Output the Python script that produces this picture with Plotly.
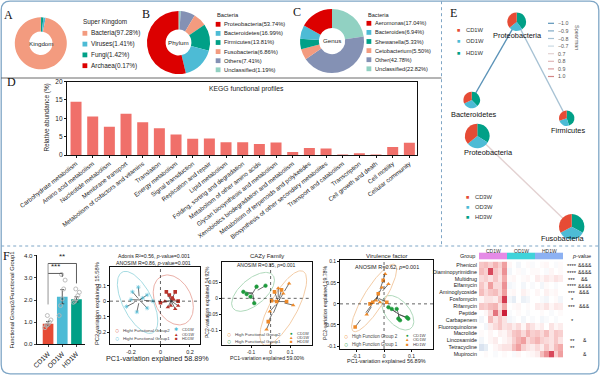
import numpy as np
import plotly.graph_objects as go

W, H = 600, 375
def PX(x): return x / W
def PY(y): return 1 - y / H

FONT = "Liberation Sans, Arial, sans-serif"
SERIF = "Liberation Serif, Times New Roman, serif"

# ---------------- data ----------------
kingdom_labels = ["Bacteria", "Viruses", "Fungi", "Archaea"]
kingdom_values = [97.28, 1.41, 1.42, 0.17]
kingdom_colors = ["#F39B7F", "#4DBBD5", "#00A087", "#DC0000"]

phylum_labels = ["Proteobacteria", "Bacteroidetes", "Firmicutes", "Fusobacteria", "Others", "Unclassified"]
phylum_values = [53.74, 16.99, 13.81, 6.86, 7.41, 1.19]
phylum_colors = ["#DC0000", "#4DBBD5", "#00A087", "#F39B7F", "#8491B4", "#91D1C2"]

genus_labels = ["Aeromonas", "Bacteroides", "Shewanella", "Cetobacterium", "Other", "Unclassified"]
genus_values = [17.04, 6.94, 5.33, 5.50, 42.78, 22.82]
genus_colors = ["#DC0000", "#4DBBD5", "#00A087", "#F39B7F", "#8491B4", "#91D1C2"]

kegg_categories = ["Carbohydrate metabolism", "Amino acid metabolism", "Nucleotide metabolism",
                   "Membrane transport", "Metabolism of cofactors and vitamins", "Translation",
                   "Energy metabolism", "Signal transduction", "Replication and repair",
                   "Lipid metabolism", "Folding, sorting and degradation",
                   "Metabolism of other amino acids", "Glycan biosynthesis and metabolism",
                   "Xenobiotics biodegradation and metabolism",
                   "Metabolism of terpenoids and polyketides",
                   "Biosynthesis of other secondary metabolites", "Transport and catabolism",
                   "Transcription", "Cell growth and death", "Cell motility", "Cellular community"]
kegg_values = [14.5, 10.5, 7.7, 11.2, 8.9, 7.3, 5.6, 4.4, 4.5, 3.5, 3.5, 3.0, 3.4, 0.8,
               1.9, 1.8, 0.05, 0.45, 0.05, 2.2, 3.3]

# E network
e_nodes = ["Proteobacteria", "Bacteroidetes", "Firmicutes", "Proteobacteria", "Fusobacteria"]
e_shares = [[0.36, 0.24, 0.40], [0.32, 0.30, 0.38], [0.30, 0.25, 0.45],
            [0.36, 0.30, 0.34], [0.33, 0.34, 0.33]]
e_edges = [(0, 1, -1.0), (0, 2, -0.8), (3, 4, 0.7)]
spearman_levels = [-1.0, -0.9, -0.8, -0.7, 0.7, 0.8, 0.9, 1.0]
spearman_colors = ["#5b93b8", "#80aac6", "#a7c2d4", "#c9d8e2", "#e3d2d2", "#dfb7b7", "#d99c9c", "#d38585"]
groups_1w = ["CD1W", "OD1W", "HD1W"]
groups_3w = ["CD3W", "OD3W", "HD3W"]
group_colors = ["#E64B35", "#4DBBD5", "#00A087"]

# F bar chart
f_groups = ["CD1W", "OD1W", "HD1W"]
f_means = [0.93, 2.15, 2.03]
f_sem = [0.10, 0.32, 0.12]
f_points = [[0.75, 0.85, 0.90, 1.00, 1.10, 1.30],
            [1.30, 1.75, 2.05, 2.50, 2.90, 3.15],
            [1.90, 1.95, 2.05, 2.20, 2.35, 2.50]]

# F PCoA 1 (ARG)
p1_cd_x = [-0.15, -0.19, -0.09, -0.23, -0.16, -0.09, -0.12, -0.05, -0.20]
p1_cd_y = [0.09, 0.06, 0.04, -0.035, -0.07, -0.045, 0.02, 0.0, 0.01]
p1_od_x = [0.03, 0.07, 0.10, 0.12, 0.05, 0.09]
p1_od_y = [0.0, -0.03, -0.05, -0.03, -0.04, 0.01]
p1_hd_x = [0.04, 0.06, 0.10, 0.08, 0.0, 0.12]
p1_hd_y = [0.06, 0.04, 0.06, 0.02, -0.01, 0.0]
# ellipse (cx, cy, half-width x, half-height y, correlation)
p1_ell_g1 = (-0.155, -0.008, 0.137, 0.20, -0.6)
p1_ell_g2 = (0.087, 0.008, 0.136, 0.161, -0.3)

# F PCoA 2 (CAZy)
p2_cd_x = [-0.123, -0.072, -0.026, -0.103, -0.084, -0.14]
p2_cd_y = [0.013, 0.036, 0.039, 0.005, -0.015, 0.02]
p2_od_x = [0.095, 0.065, 0.116, -0.004, -0.021, 0.039]
p2_od_y = [0.046, 0.015, -0.021, -0.041, -0.096, 0.031]
p2_hd_x = [0.056, 0.082, 0.031, -0.012, 0.005, 0.02]
p2_hd_y = [0.026, -0.01, -0.01, -0.072, -0.007, 0.02]
p2_ell_g1 = (-0.09, 0.02, 0.11, 0.06, 0.6)
p2_ell_g2 = (0.065, -0.03, 0.12, 0.115, 0.75)

# F PCoA 3 (Virulence)
p3_cd_x = [0.016, 0.028, 0.046, 0.052, 0.058, 0.083, 0.088]
p3_cd_y = [-0.008, -0.012, -0.012, -0.035, -0.039, -0.032, -0.035]
p3_od_x = [-0.063, -0.029, -0.008, 0.004, 0.016, -0.015]
p3_od_y = [-0.025, 0.008, 0.039, 0.071, 0.047, 0.004]
p3_hd_x = [-0.105, -0.051, -0.041, -0.021, -0.003, 0.01]
p3_hd_y = [-0.055, 0.0, 0.004, 0.024, 0.056, 0.004]
p3_ell_g1 = (0.05, -0.021, 0.058, 0.041, -0.5)
p3_ell_g2 = (-0.036, 0.014, 0.082, 0.08, 0.85)

# F heatmap
hm_rows = ["Phenicol", "Diaminopyrimidine", "Multidrug", "Elfamycin", "Aminoglycoside",
           "Fosfomycin", "Rifamycin", "Peptide", "Carbapenem", "Fluoroquinolone",
           "Macrolide", "Lincosamide", "Tetracycline", "Mupirocin"]
hm_z = [
    [0.6, 0.7, 0.5, 0.8, 0.5, 1.0, 0.1, 0.0, -0.1, 0.0, 0.05, -0.05, 0.0, 0.05, 0.1, 0.0, -0.05, 0.05],
    [0.7, 0.5, 1.6, 0.6, 0.4, 1.1, -0.1, 0.0, 0.05, -0.05, 0.0, 0.05, 0.05, 0.0, -0.05, 0.1, 0.0, 0.05],
    [0.4, 0.5, 0.3, 0.6, 0.3, 0.9, 0.05, 0.1, 0.0, 0.05, 0.1, 0.0, 0.2, 0.1, 0.25, 0.15, 0.3, 0.2],
    [0.6, 0.3, 1.0, 0.4, 0.4, 1.1, -0.1, -0.05, 0.0, -0.1, 0.0, -0.05, 0.0, -0.1, 0.05, 0.0, -0.05, 0.0],
    [0.7, 0.4, 0.6, 0.7, 0.4, 1.0, 0.05, 0.1, 0.0, 0.15, 0.05, 0.0, 0.1, 0.0, 0.15, 0.05, 0.1, 0.0],
    [0.1, 0.3, 0.3, 0.2, 0.6, 1.7, -0.1, -0.2, 0.0, -0.15, -0.1, 0.0, 0.0, -0.05, -0.1, 0.0, 0.05, -0.1],
    [0.6, 0.5, 0.7, 0.8, 0.3, 0.9, 0.0, 0.05, 0.1, 0.0, 0.05, 0.0, 0.2, 0.15, 0.3, 0.1, 0.25, 0.2],
    [0.0, 0.1, 0.4, 1.3, 0.5, 1.9, -0.05, 0.0, 0.05, 0.0, -0.05, 0.0, 0.0, 0.05, 0.0, -0.05, 0.0, 0.05],
    [-0.1, 0.0, 0.7, 0.3, 0.6, 0.3, -0.1, -0.05, 0.0, -0.1, 0.0, -0.05, 0.0, -0.1, -0.05, 0.0, -0.05, 0.0],
    [0.0, -0.1, 0.2, 0.4, 0.6, 0.3, 0.4, 0.2, 0.4, 0.1, 0.5, 0.3, 0.1, 0.2, 0.0, 0.3, 0.1, 0.2],
    [0.05, 0.0, 0.1, 0.0, 0.15, 0.1, 0.3, 0.6, 0.7, 0.4, 0.8, 0.5, 0.6, 0.4, 0.7, 0.3, 0.6, 0.5],
    [-0.1, 0.0, 0.1, 0.2, 0.0, 0.1, 0.2, 0.5, 0.8, 1.0, 0.4, 0.6, 0.8, 0.5, 0.4, 0.3, 0.6, 0.3],
    [-0.3, -0.2, 0.0, 0.1, 0.2, 0.3, 0.3, 0.7, 1.0, 0.5, 0.3, 0.2, 0.4, 0.2, 0.6, 0.3, 0.7, 0.9],
    [0.0, 0.05, 0.0, -0.05, 0.0, 0.05, 0.0, -0.05, 0.1, 0.0, 0.05, 0.1, 0.2, 0.7, 1.1, 1.6, 0.5, 1.0],
]
hm_stars = ["****", "****", "***", "****", "***", "*", "***", "", "*", "", "", "**", "**", ""]
hm_amps = ["&&&&", "&&&&", "&&", "&&&&", "&&&", "", "&&&", "", "", "", "", "&", "", "&"]
hm_group_colors = ["#E58AE6", "#3FD3DA", "#8DB1F2"]

# ---------------- figure ----------------
fig = go.Figure()
shapes = []
ann = []

def dom(cx, cy, r):
    return dict(x=[PX(cx - r), PX(cx + r)], y=[PY(cy + r), PY(cy - r)])

def donut(labels, values, colors, domain, hole=0.0):
    # slices laid out anticlockwise from 12 o'clock (as in the reference):
    # feed the slices in reverse order to a clockwise pie
    fig.add_trace(go.Pie(labels=list(labels)[::-1], values=list(values)[::-1],
                         marker=dict(colors=list(colors)[::-1], line=dict(width=0)),
                         hole=hole, sort=False, direction="clockwise", rotation=0,
                         textinfo="none", hoverinfo="skip", showlegend=False, domain=domain))

def text(x, y, s, size=6, color="#222", xanchor="center", yanchor="middle", angle=0, family=FONT):
    ann.append(dict(x=PX(x), y=PY(y), xref="paper", yref="paper", text=s, showarrow=False,
                    font=dict(size=size, color=color, family=family), xanchor=xanchor,
                    yanchor=yanchor, textangle=angle))

def rect(x0, y0, x1, y1, color):
    shapes.append(dict(type="rect", xref="paper", yref="paper", x0=PX(x0), x1=PX(x1),
                       y0=PY(y1), y1=PY(y0), fillcolor=color, line=dict(width=0)))

# donuts
for labels, values, colors, cx, cy, r, hole, name in [
        (kingdom_labels, kingdom_values, kingdom_colors, 40.8, 43.3, 26, 0.45, "Kingdom"),
        (phylum_labels, phylum_values, phylum_colors, 178.5, 42.5, 31.5, 0.41, "Phylum"),
        (genus_labels, genus_values, genus_colors, 332, 41, 32, 0.41, "Genus")]:
    donut(labels, values, colors, dom(cx, cy, r), hole)
    text(cx, cy, name, size=6.2)

# manual legends for donuts
def donut_legend(title, tx, ty, labels, values, colors, sqx, y_first, step, size=6.2):
    text(tx, ty, title, size=size, xanchor="left")
    for i, (lab, val, col) in enumerate(zip(labels, values, colors)):
        yy = y_first + i * step
        rect(sqx, yy - 2.4, sqx + 4.8, yy + 2.4, col)
        text(sqx + 6.5, yy, f"{lab}({val:.2f}%)", size=size, xanchor="left")

donut_legend("Super Kingdom", 81, 21.7, kingdom_labels, kingdom_values, kingdom_colors, 82.5, 33.3, 10.8, 6.4)
donut_legend("Bacteria", 215, 15, phylum_labels, phylum_values, phylum_colors, 215.7, 24.3, 9.1, 5.8)
donut_legend("Bacteria", 365.5, 15, genus_labels, genus_values, genus_colors, 366.5, 23.3, 9.1, 5.6)

# ---- D: KEGG bars ----
fig.add_trace(go.Bar(x=list(range(len(kegg_values))), y=kegg_values, marker=dict(color="#F0706A", line=dict(width=0)),
                     width=0.66, xaxis="x", yaxis="y", showlegend=False, hoverinfo="skip"))
# ---- F bars ----
fig.add_trace(go.Bar(x=[0, 1, 2], y=f_means, marker=dict(color=group_colors, line=dict(width=0)), width=0.75,
                     error_y=dict(type="data", array=f_sem, color="#333", thickness=0.8, width=2),
                     xaxis="x2", yaxis="y2", showlegend=False, hoverinfo="skip"))
jit = [-0.22, -0.12, 0.0, 0.1, 0.2, -0.05]
for gi, pts in enumerate(f_points):
    fig.add_trace(go.Scatter(x=[gi + jit[k % len(jit)] for k in range(len(pts))], y=pts, mode="markers",
                             marker=dict(symbol="circle-open", size=4, color="#b5b5b5", line=dict(width=0.9)),
                             xaxis="x2", yaxis="y2", showlegend=False, hoverinfo="skip"))

# ---- PCoA plots ----
def ellipse(params, n=120):
    cx, cy, hx, hy, rho = params
    t = np.linspace(0, 2 * np.pi, n)
    d = np.arccos(rho)
    return cx + hx * np.cos(t), cy + hy * np.cos(t - d)

def pcoa(ax, cdx, cdy, odx, ody, hdx, hdy, ell1, ell2, c1, c2, e1, e2, sym1):
    xa, ya = ("x" + ax), ("y" + ax)
    for ell, col in [(ell1, e1), (ell2, e2)]:
        ex, ey = ellipse(ell)
        fig.add_trace(go.Scatter(x=ex, y=ey, mode="lines", line=dict(color=col, width=1),
                                 xaxis=xa, yaxis=ya, showlegend=False, hoverinfo="skip"))
    g2x = list(odx) + list(hdx)
    g2y = list(ody) + list(hdy)
    for gx, gy in [(cdx, cdy), (g2x, g2y)]:
        mx, my = float(np.mean(gx)), float(np.mean(gy))
        sx, sy = [], []
        for a, b in zip(gx, gy):
            sx += [a, mx, None]
            sy += [b, my, None]
        fig.add_trace(go.Scatter(x=sx, y=sy, mode="lines", line=dict(color="#333", width=0.7, dash="dash"),
                                 xaxis=xa, yaxis=ya, showlegend=False, hoverinfo="skip"))
    fig.add_trace(go.Scatter(x=cdx, y=cdy, mode="markers", marker=dict(symbol=sym1, size=3.6, color=c1,
                             line=dict(width=0.6, color=c1)), xaxis=xa, yaxis=ya, showlegend=False, hoverinfo="skip"))
    fig.add_trace(go.Scatter(x=odx, y=ody, mode="markers", marker=dict(symbol="triangle-up", size=4, color=c2),
                             xaxis=xa, yaxis=ya, showlegend=False, hoverinfo="skip"))
    fig.add_trace(go.Scatter(x=hdx, y=hdy, mode="markers", marker=dict(symbol="square", size=3.6, color=c2),
                             xaxis=xa, yaxis=ya, showlegend=False, hoverinfo="skip"))

pcoa("3", p1_cd_x, p1_cd_y, p1_od_x, p1_od_y, p1_hd_x, p1_hd_y, p1_ell_g1, p1_ell_g2,
     "#4DBBD5", "#B8322A", "#A6DCE3", "#EBB0A8", "asterisk")
pcoa("4", p2_cd_x, p2_cd_y, p2_od_x, p2_od_y, p2_hd_x, p2_hd_y, p2_ell_g1, p2_ell_g2,
     "#1E9A3C", "#EE8A2A", "#AFD9BB", "#F3CCA6", "circle")
pcoa("5", p3_cd_x, p3_cd_y, p3_od_x, p3_od_y, p3_hd_x, p3_hd_y, p3_ell_g1, p3_ell_g2,
     "#1E9A3C", "#EE8A2A", "#AFD9BB", "#F3CCA6", "circle")

# ---- heatmap ----
fig.add_trace(go.Heatmap(z=hm_z, x=list(range(18)), y=hm_rows, zmin=-1.5, zmax=2.0,
                         colorscale=[[0, "#4575b4"], [0.4286, "#ffffff"], [0.7, "#f2a6a6"], [1, "#c8102e"]],
                         showscale=False, xaxis="x6", yaxis="y6", hoverinfo="skip"))

# ---- E network ----
e_pos = [(516.7, 21.7), (471.7, 100.0), (566.7, 118.3), (477.3, 136.0), (571.7, 226.7)]
e_rad = [9.3, 8.3, 7.7, 12.3, 12.7]
e_label_pos = [(517.7, 35.5), (473.3, 114.3), (568, 130.5), (488, 152.7), (563, 238.5)]
for a, b, rv in e_edges:
    col = spearman_colors[spearman_levels.index(rv)]
    fig.add_trace(go.Scatter(x=[e_pos[a][0], e_pos[b][0]], y=[e_pos[a][1], e_pos[b][1]], mode="lines",
                             line=dict(color=col, width=1.4), xaxis="x7", yaxis="y7",
                             showlegend=False, hoverinfo="skip"))
for i, name in enumerate(e_nodes):
    cx, cy = e_pos[i]
    donut(groups_1w, e_shares[i], group_colors, dom(cx, cy, e_rad[i]))
    text(e_label_pos[i][0], e_label_pos[i][1], name, size=7.4, color="#111")

for i, g in enumerate(groups_1w):
    yy = 30 + i * 11.3
    text(458, yy, "■", size=5.5, color=group_colors[i])
    text(463.5, yy, g, size=5.8, xanchor="left", color="#333")
for i, g in enumerate(groups_3w):
    yy = 197 + i * 9.8
    text(467.5, yy, "■", size=5.5, color=group_colors[i])
    text(473, yy, g, size=5.8, xanchor="left", color="#333")
for i, (lv, col) in enumerate(zip(spearman_levels, spearman_colors)):
    yy = 23.3 + i * 7.6
    shapes.append(dict(type="line", xref="paper", yref="paper", x0=PX(548), x1=PX(554), y0=PY(yy), y1=PY(yy),
                       line=dict(color=col, width=1.2)))
    s = f"{lv:.1f}".replace("-", "\u2212")
    text(556, yy, s, size=5.3, xanchor="left", color="#555")
text(577, 37, "Spearman", size=5.5, color="#555", angle=90)

# ---- shapes: brackets F bar ----
def dline(xr, yr, x0, y0, x1, y1, color="#333", w=0.8, dash="solid"):
    shapes.append(dict(type="line", xref=xr, yref=yr, x0=x0, y0=y0, x1=x1, y1=y1,
                       line=dict(color=color, width=w, dash=dash)))

dline("x2", "y2", 0, 3.2, 1, 3.2)
dline("x2", "y2", 1, 3.2, 1, 3.05)
dline("x2", "y2", 0, 3.65, 2, 3.65)
dline("x2", "y2", 2, 3.65, 2, 2.75)
dline("x2", "y2", 0, 3.65, 0, 1.8, color="#777")
ann.append(dict(x=0.5, y=3.22, xref="x2", yref="y2", text="***", showarrow=False, yanchor="bottom",
                font=dict(size=8, color="#222", family=FONT)))
ann.append(dict(x=1.0, y=3.67, xref="x2", yref="y2", text="**", showarrow=False, yanchor="bottom",
                font=dict(size=8, color="#222", family=FONT)))

# zero lines in PCoA
for ax, xr, yr in [("3", (-0.342, 0.268), (-0.276, 0.222)), ("4", (-0.251, 0.211), (-0.144, 0.113)),
                   ("5", (-0.16, 0.179), (-0.107, 0.104))]:
    dline("x" + ax, "y" + ax, 0, yr[0], 0, yr[1], color="#222", w=0.7, dash="dot")
    dline("x" + ax, "y" + ax, xr[0], 0, xr[1], 0, color="#222", w=0.7, dash="dot")

# heatmap header
for i, (g, col) in enumerate(zip(groups_1w, hm_group_colors)):
    shapes.append(dict(type="rect", xref="x6", yref="paper", x0=-0.5 + 6 * i, x1=5.5 + 6 * i,
                       y0=PY(259.3), y1=PY(252.7), fillcolor=col, line=dict(width=0)))
    ann.append(dict(x=2.5 + 6 * i, y=PY(256), xref="x6", yref="paper", text=g, showarrow=False,
                    font=dict(size=5, color="#333", family=FONT)))
text(477, 256, "Group", size=5.5, xanchor="right", color="#222")
text(581, 256, "<i>p</i>-value", size=5.5, color="#222")
for i, (s, a) in enumerate(zip(hm_stars, hm_amps)):
    yy = 265 + i * 6.85
    if s:
        text(572, yy + 0.8, s, size=5.8, color="#222")
    if a:
        text(584.5, yy, a, size=5.0, color="#222")

# ---- text: D ----
text(246.7, 89, "KEGG functional profiles", size=6.8)
text(46.5, 118, "Relative abundance (%)", size=6.4, angle=-90)

# ---- text: F ----
text(11.5, 300, "Functional Group2/Functional Group1", size=5.8, angle=-90)
text(153.5, 256, "Adonis R\u00b2=0.56, <i>p</i>-value=0.001", size=5.2)
text(153.5, 262.5, "ANOSIM R=0.86, <i>p</i>-value=0.001", size=5.2)
text(158, 358, "PC1-variation explained 58.89%", size=7.2)
text(97, 303, "PC2-variation explained 15.58%", size=5.8, angle=-90)
text(117, 330, "○", size=7, color="#D9574A")
text(121, 330, "Hight Functional Group2", size=4.3, xanchor="left", color="#444")
text(117, 338.5, "○", size=7, color="#4DBBD5")
text(121, 338.5, "Hight Functional Group1", size=4.3, xanchor="left", color="#444")
for i, (sym, col, g) in enumerate([("✱", "#4DBBD5", "CD1W"), ("▲", "#B8322A", "OD1W"), ("■", "#B8322A", "HD1W")]):
    text(176, 329.5 + i * 4.6, sym, size=4.5, color=col)
    text(180, 329.5 + i * 4.6, g, size=4, xanchor="left", color="#444")

text(266.5, 256, "CAZy Family", size=6)
text(266.5, 265, "ANOSIM R=0.85, <i>p</i>=0.001", size=5)
text(266.5, 357.5, "PC1-variation explained 59.00%", size=5.2)
text(207, 302, "PC2-variation explained 14.92%", size=5, angle=-90)
text(229, 334, "○", size=7, color="#EE8A2A")
text(233, 334, "High Functional Group2", size=4.3, xanchor="left", color="#444")
text(229, 341.5, "○", size=7, color="#1E9A3C")
text(233, 341.5, "High Functional Group1", size=4.3, xanchor="left", color="#444")
for i, (sym, col, g) in enumerate([("●", "#1E9A3C", "CD1W"), ("▲", "#EE8A2A", "OD1W"), ("■", "#EE8A2A", "HD1W")]):
    text(291, 333 + i * 4.4, sym, size=4.5, color=col)
    text(295, 333 + i * 4.4, g, size=4, xanchor="left", color="#444")

text(386.5, 255.5, "Virulence factor", size=6)
text(386.5, 267, "ANOSIM R=0.62, <i>p</i>=0.001", size=5.5)
text(386.5, 361, "PC1-variation explained 56.89%", size=5.5)
text(325, 303, "PC2-variation explained 19.78%", size=5.2, angle=-90)
text(346, 336.5, "○", size=7, color="#EE8A2A")
text(350, 336.5, "High Function Group 2", size=4.5, xanchor="left", color="#444")
text(346, 344, "○", size=7, color="#1E9A3C")
text(350, 344, "High Function Group 1", size=4.5, xanchor="left", color="#444")
for i, (sym, col, g) in enumerate([("●", "#1E9A3C", "CD1W"), ("▲", "#EE8A2A", "OD1W"), ("■", "#EE8A2A", "HD1W")]):
    text(407, 335 + i * 4.6, sym, size=4.5, color=col)
    text(411, 335 + i * 4.6, g, size=4.3, xanchor="left", color="#444")

# panel letters
for L, x, y in [("A", 8, 15), ("B", 146, 14), ("C", 296.5, 12), ("D", 11, 82), ("E", 453, 13), ("F", 6, 256)]:
    text(x, y, L, size=12, color="#111", family=SERIF)

# panel borders
def rrect(x0, y0, x1, y1, r):
    P = lambda x, y: f"{PX(x):.5f},{PY(y):.5f}"
    return (f"M {P(x0 + r, y0)} L {P(x1 - r, y0)} Q {P(x1, y0)} {P(x1, y0 + r)} L {P(x1, y1 - r)} "
            f"Q {P(x1, y1)} {P(x1 - r, y1)} L {P(x0 + r, y1)} Q {P(x0, y1)} {P(x0, y1 - r)} "
            f"L {P(x0, y0 + r)} Q {P(x0, y0)} {P(x0 + r, y0)} Z")
BCOL = "#7FA6C6"
shapes.append(dict(type="path", xref="paper", yref="paper", path=rrect(1.2, 1.2, 598.8, 373.8, 9),
                   line=dict(color=BCOL, width=1.3)))
shapes.append(dict(type="line", xref="paper", yref="paper", x0=PX(441.5), x1=PX(441.5), y0=PY(1.2), y1=PY(246),
                   line=dict(color=BCOL, width=1, dash="dot")))
shapes.append(dict(type="line", xref="paper", yref="paper", x0=PX(1.2), x1=PX(598.8), y0=PY(246), y1=PY(246),
                   line=dict(color=BCOL, width=1, dash="dot")))
shapes.append(dict(type="line", xref="paper", yref="paper", x0=PX(1.2), x1=PX(441.5), y0=PY(78), y1=PY(78),
                   line=dict(color="#444", width=0.8)))

# ---------------- axes ----------------
def xdom(a, b): return [PX(a), PX(b)]
def ydom(top, bottom): return [PY(bottom), PY(top)]

box = dict(showline=True, linecolor="#111", linewidth=0.8, mirror=True, showgrid=False, zeroline=False,
           ticks="outside", ticklen=2, tickwidth=0.7, tickcolor="#111", automargin=False)

layout = dict(
    template="none",
    width=W, height=H, autosize=False, margin=dict(l=0, r=0, t=0, b=0, pad=0, autoexpand=False),
    paper_bgcolor="white", plot_bgcolor="rgba(0,0,0,0)", showlegend=False,
    font=dict(family=FONT, color="#222"),
    xaxis=dict(domain=xdom(66.7, 416.7), range=[-0.56, 20.44], tickmode="array",
               tickvals=list(range(len(kegg_categories))), ticktext=kegg_categories, tickangle=-38,
               tickfont=dict(size=6.2), anchor="y", **box),
    yaxis=dict(domain=ydom(81.5, 155), range=[0, 20], tickvals=[0, 5, 10, 15, 20],
               tickfont=dict(size=6.5), anchor="x", **box),
    xaxis2=dict(domain=xdom(36.7, 85), range=[-0.8, 2.6], tickmode="array", tickvals=[0, 1, 2],
                ticktext=f_groups, tickangle=-45, tickfont=dict(size=6.8), anchor="y2",
                showline=True, linecolor="#111", linewidth=0.8, showgrid=False, zeroline=False,
                ticks="outside", ticklen=2, automargin=False),
    yaxis2=dict(domain=ydom(255.3, 344.3), range=[0, 4.02], tickvals=[0, 1, 2, 3, 4], tickformat=".1f",
                tickfont=dict(size=6.2), anchor="x2", showline=True, linecolor="#111", linewidth=0.8,
                showgrid=False, zeroline=False, ticks="outside", ticklen=2, automargin=False),
    xaxis3=dict(domain=xdom(110, 200), range=[-0.342, 0.268], tickvals=[-0.2, 0, 0.2],
                ticktext=["-0.2", "0", "0.2"], tickfont=dict(size=5.5), anchor="y3", **box),
    yaxis3=dict(domain=ydom(266.7, 344), range=[-0.276, 0.222], tickvals=[-0.2, -0.1, 0, 0.1],
                ticktext=["-0.2", "-0.1", "0", "0.1"], tickfont=dict(size=5.5), anchor="x3", **box),
    xaxis4=dict(domain=xdom(221.7, 311.7), range=[-0.251, 0.211], tickvals=[-0.1, 0, 0.1],
                ticktext=["-0.1", "0", "0.1"], tickfont=dict(size=4.8), anchor="y4", **box),
    yaxis4=dict(domain=ydom(261.7, 345), range=[-0.144, 0.113], tickvals=[-0.1, -0.05, 0, 0.05],
                ticktext=["-0.1", "-0.05", "0", "0.05"], tickfont=dict(size=4.8), anchor="x4", **box),
    xaxis5=dict(domain=xdom(340, 433.3), range=[-0.16, 0.179], tickvals=[-0.1, 0, 0.1],
                ticktext=["-0.1", "0", "0.1"], tickfont=dict(size=5), anchor="y5", **box),
    yaxis5=dict(domain=ydom(260, 349), range=[-0.107, 0.104], tickvals=[-0.1, -0.05, 0, 0.05, 0.1],
                ticktext=["-0.1", "-0.05", "0", "0.05", "0.1"], tickfont=dict(size=5), anchor="x5", **box),
    xaxis6=dict(domain=xdom(479, 563), range=[-0.5, 17.5], visible=False, anchor="y6", automargin=False),
    yaxis6=dict(domain=ydom(261.6, 357.4), autorange="reversed", tickfont=dict(size=5.4, color="#222"),
                showline=False, showgrid=False, zeroline=False, ticks="", anchor="x6", ticklabelstandoff=1,
                automargin=False),
    xaxis7=dict(domain=xdom(443, 600), range=[443, 600], visible=False, anchor="y7", fixedrange=True,
                automargin=False),
    yaxis7=dict(domain=ydom(0, 245), range=[245, 0], visible=False, anchor="x7", fixedrange=True,
                automargin=False),
    shapes=shapes, annotations=ann,
)
fig.update_layout(**layout)
fig.write_html("out.html", config={"displayModeBar": False},
               post_script="document.body.style.margin='0';document.body.style.overflow='hidden';")
